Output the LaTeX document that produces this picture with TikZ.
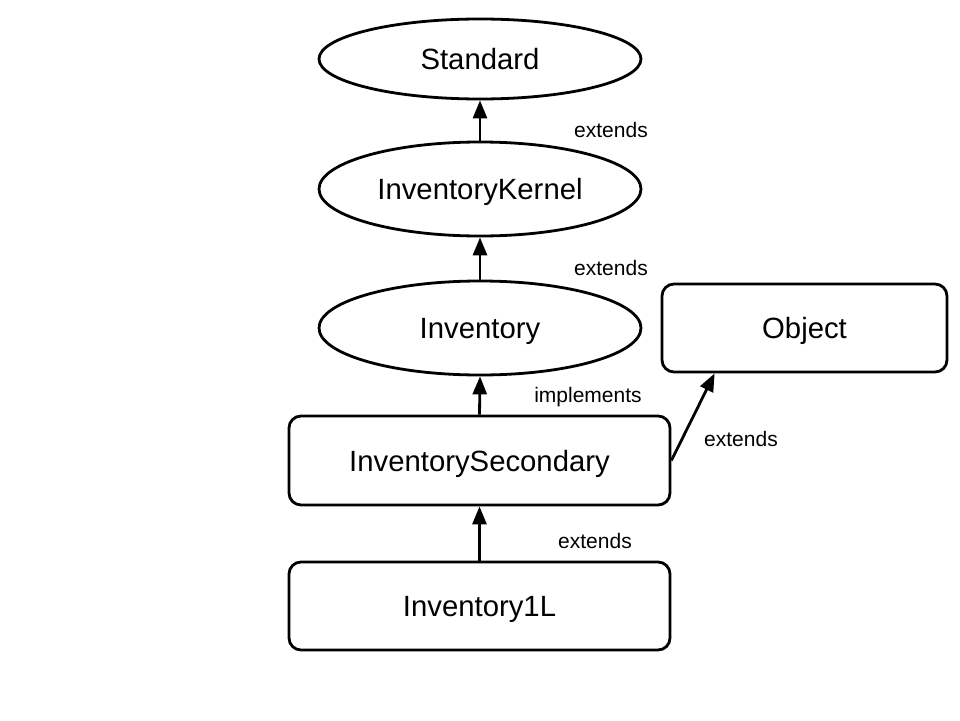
\documentclass[tikz,border=0pt]{standalone}
\usepackage{fontspec}
\setmainfont{Liberation Sans}
\usetikzlibrary{shapes.geometric,arrows.meta,calc}
\begin{document}
\begin{tikzpicture}[x=1pt,y=-1pt,
  ell/.style={draw,line width=2.8pt,ellipse,minimum width=322pt,inner sep=0pt,text depth=0pt,font=\fontsize{29.3}{32}\selectfont},
  box/.style={draw,line width=2.8pt,rounded corners=12pt,inner sep=0pt,text depth=0pt,font=\fontsize{29.3}{32}\selectfont},
  conn/.style={line width=2.8pt,-{Triangle[length=18pt,width=14pt]}},
  lbl/.style={font=\fontsize{21}{24}\selectfont,inner sep=0pt}]
\useasboundingbox (0,0) rectangle (960,720);
\node[ell,minimum height=80pt] (standard) at (480,59) {Standard};
\node[ell,minimum height=94pt] (kernel) at (480,189) {InventoryKernel};
\node[ell,minimum height=94pt] (inventory) at (480,328) {Inventory};
\node[box,minimum width=285pt,minimum height=88pt] (object) at (804.5,328) {Object};
\node[box,minimum width=381pt,minimum height=89pt] (secondary) at (479.5,460.5) {InventorySecondary};
\node[box,minimum width=381pt,minimum height=88pt] (inv1l) at (479.5,606) {Inventory1L};
\coordinate (objin) at ($(object.south west)+(54pt,0)$);
\draw[conn] (kernel.north) -- (standard.south);
\draw[conn] (inventory.north) -- (kernel.south);
\draw[conn] (secondary.north) -- (inventory.south);
\draw[conn] (inv1l.north) -- (secondary.south);
\draw[conn] (secondary.east) -- (objin);
\node[lbl] (l1) at (611,130) {extends};
\node[lbl] (l2) at (611,268) {extends};
\node[lbl] (l3) at (588,397) {implements};
\node[lbl] (l4) at (741,439) {extends};
\node[lbl] (l5) at (595,541) {extends};
\end{tikzpicture}
\end{document}
